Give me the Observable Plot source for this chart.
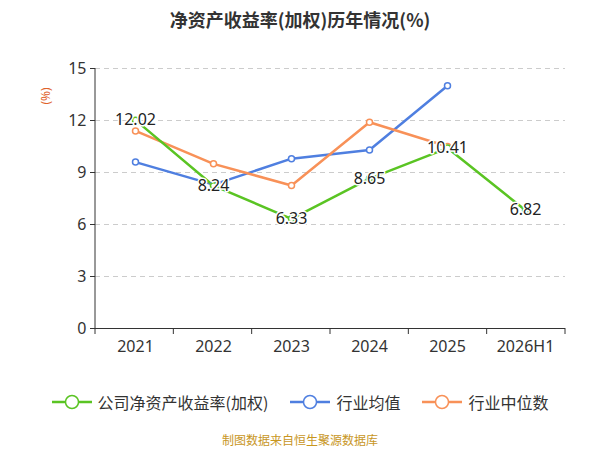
<!DOCTYPE html>
<html><head><meta charset="utf-8">
<script src="https://cdn.jsdelivr.net/npm/d3@7"></script>
<script src="https://cdn.jsdelivr.net/npm/@observablehq/plot@0.6"></script>
<style>
body{margin:0;background:#fff;font-family:"Noto Sans CJK SC","Noto Sans",sans-serif;}
#wrap{width:600px;position:relative;}
h1{margin:0;padding-top:6px;height:30px;text-align:center;font-size:18px;font-weight:bold;color:#333;}
.legend{display:flex;justify-content:center;gap:22px;font-size:16px;color:#333;margin-top:15px;}
.legend span{display:flex;align-items:center;gap:6px;}
.cap{text-align:center;font-size:12px;color:#c8961e;margin-top:17px;}
</style></head><body>
<div id="wrap">
<h1>净资产收益率(加权)历年情况(%)</h1>
<div id="chart"></div>
<div class="legend" id="legend"></div>
<div class="cap">制图数据来自恒生聚源数据库</div>
</div>
<script>
const years = ["2021","2022","2023","2024","2025","2026H1"];
const company = [12.02, 8.24, 6.33, 8.65, 10.41, 6.82];
const industryAvg = [9.6, 8.3, 9.8, 10.3, 14.0];
const industryMed = [11.4, 9.5, 8.25, 11.9, 10.5];
const yTicks = [0,3,6,9,12,15];
const names = ["公司净资产收益率(加权)","行业均值","行业中位数"];
const colors = ["#5ac423","#4f7fe0","#f89158"];

const comp = company.map((v,i)=>({x:years[i],y:v}));
const avg = industryAvg.map((v,i)=>({x:years[i],y:v}));
const med = industryMed.map((v,i)=>({x:years[i],y:v}));

const chart = Plot.plot({
  width:600, height:339,
  marginLeft:95, marginRight:35, marginTop:32, marginBottom:47,
  style:{fontSize:"16px", fontFamily:"Noto Sans, sans-serif", color:"#333"},
  x:{type:"point", domain:years, padding:0.5, label:null, tickSize:0, tickPadding:12},
  y:{domain:[0,15], ticks:yTicks, label:null, tickSize:5, tickPadding:4},
  marks:[
    Plot.gridY(yTicks.filter(d=>d>0),{stroke:"#ccc",strokeOpacity:1,strokeDasharray:"5,4"}),
    Plot.ruleY([0],{stroke:"#333"}),
    Plot.axisY({ticks:yTicks, tickSize:5, label:null}),
    Plot.line(avg,{x:"x",y:"y",stroke:colors[1],strokeWidth:2.5}),
    Plot.line(med,{x:"x",y:"y",stroke:colors[2],strokeWidth:2.5}),
    Plot.line(comp,{x:"x",y:"y",stroke:colors[0],strokeWidth:2.5}),
    Plot.dot(avg,{x:"x",y:"y",r:3,fill:"#fff",stroke:colors[1],strokeWidth:1.5}),
    Plot.dot(med,{x:"x",y:"y",r:3,fill:"#fff",stroke:colors[2],strokeWidth:1.5}),
    Plot.dot(comp,{x:"x",y:"y",r:3,fill:"#fff",stroke:colors[0],strokeWidth:1.5}),
    Plot.text(comp,{x:"x",y:"y",text:d=>d.y.toFixed(2),fontSize:16,fill:"#222",stroke:"#fff",strokeWidth:3})
  ]
});
const svg = d3.select(chart);
svg.append("line").attr("x1",95).attr("x2",95).attr("y1",32).attr("y2",292).attr("stroke","#333");
for(let i=0;i<=6;i++){const x=95+i*(470/6);svg.append("line").attr("x1",x).attr("x2",x).attr("y1",292).attr("y2",298).attr("stroke","#333");}
svg.append("text").attr("transform","translate(50,60) rotate(-90)").attr("text-anchor","middle").attr("fill","#e0622a").attr("font-size",12).text("(%)");
document.getElementById("chart").appendChild(chart);

const leg = document.getElementById("legend");
names.forEach((n,i)=>{
  const s=document.createElement("span");
  s.innerHTML=`<svg width="40" height="16"><line x1="0" x2="40" y1="8" y2="8" stroke="${colors[i]}" stroke-width="2.5"/><circle cx="20" cy="8" r="6.5" fill="#fff" stroke="${colors[i]}" stroke-width="1.5"/></svg>${n}`;
  leg.appendChild(s);
});
</script>
</body></html>
